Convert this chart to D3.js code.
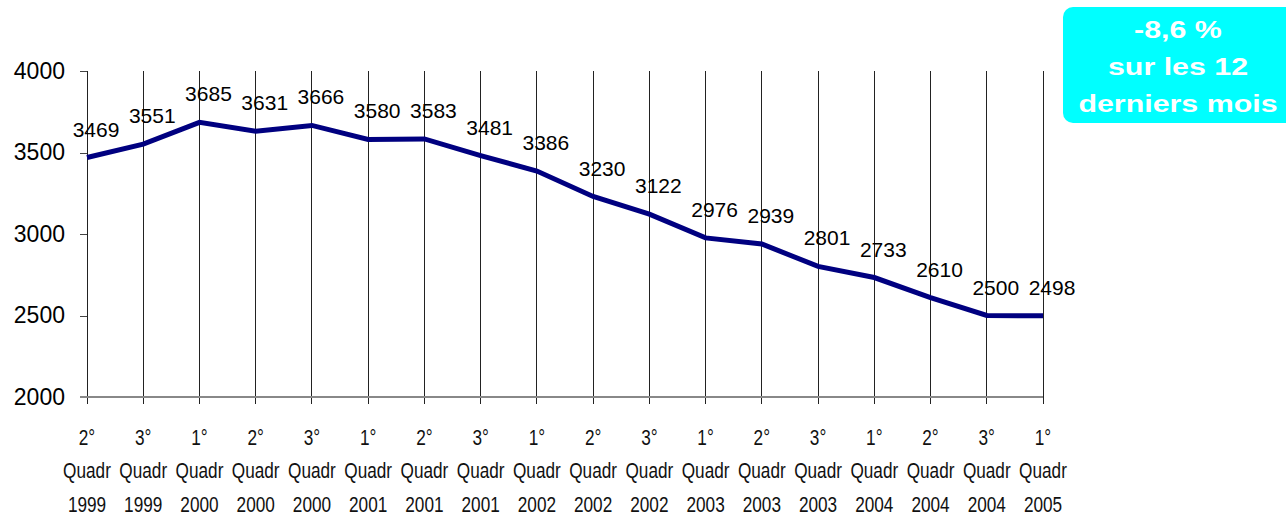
<!DOCTYPE html>
<html>
<head>
<meta charset="utf-8">
<script src="https://cdn.jsdelivr.net/npm/d3@7/dist/d3.min.js"></script>
<style>
  html, body { margin: 0; padding: 0; background: #fff; }
  svg { display: block; }
</style>
</head>
<body>
<svg id="chart" width="1286" height="516"></svg>
<script>
const quarters = ["2°","3°","1°","2°","3°","1°","2°","3°","1°","2°","3°","1°","2°","3°","1°","2°","3°","1°"];
const years = ["1999","1999","2000","2000","2000","2001","2001","2001","2002","2002","2002","2003","2003","2003","2004","2004","2004","2005"];
const values = [3469,3551,3685,3631,3666,3580,3583,3481,3386,3230,3122,2976,2939,2801,2733,2610,2500,2498];
const yTicks = [2000,2500,3000,3500,4000];
const calloutLines = ["-8,6 %","sur les 12","derniers mois"];

const svg = d3.select("#chart");
const idx = values.map((d,i)=>i);
const x = d3.scalePoint().domain(idx).range([87, 1043]);
const y = d3.scaleLinear().domain([2000, 4000]).range([397, 71]);
const baseFont = "'Liberation Sans', Arial, sans-serif";

// vertical gridlines (with tick extension below axis)
svg.append("g").selectAll("line").data(idx).join("line")
  .attr("x1", d=>x(d)).attr("x2", d=>x(d))
  .attr("y1", y(4000)).attr("y2", y(2000)+7)
  .attr("stroke", "#222").attr("stroke-width", 1).attr("shape-rendering","crispEdges");

// y axis
const yAxis = d3.axisLeft(y).tickValues(yTicks).tickSize(7).tickPadding(15).tickFormat(d3.format("d"));
const ya = svg.append("g").attr("transform", "translate(87,0)").call(yAxis);
ya.attr("font-family", baseFont).attr("font-size", 23);
ya.select(".domain").attr("stroke", "#222").attr("shape-rendering","crispEdges");
ya.selectAll(".tick line").attr("stroke", "#444").attr("shape-rendering","crispEdges");
ya.selectAll(".tick text").attr("fill", "#000");

// x axis line
svg.append("line").attr("x1", 80).attr("x2", 1043).attr("y1", y(2000)).attr("y2", y(2000))
  .attr("stroke", "#888").attr("stroke-width", 2);

// category labels (narrow look via horizontal condensation)
const cats = svg.append("g").attr("font-family", baseFont).attr("font-size", 21.5)
  .attr("fill", "#111").attr("text-anchor", "middle");
const rows = [
  {cls:"q", yy:445, f:d=>quarters[d]},
  {cls:"qd", yy:478, f:()=>"Quadr"},
  {cls:"yr", yy:512, f:d=>years[d]}
];
rows.forEach(r => {
  cats.selectAll("text."+r.cls).data(idx).join("text").attr("class", r.cls)
    .attr("transform", d=>`translate(${x(d)},${r.yy}) scale(0.8,1)`)
    .text(r.f);
});

// line
const line = d3.line().x((d,i)=>x(i)).y(d=>y(d));
svg.append("path").datum(values).attr("d", line)
  .attr("fill", "none").attr("stroke", "#000080").attr("stroke-width", 5)
  .attr("stroke-linejoin", "miter");

// data labels
svg.append("g").attr("font-family", baseFont)
  .attr("font-size", 21).attr("fill", "#000").attr("text-anchor", "middle")
  .selectAll("text").data(values).join("text")
  .attr("x", (d,i)=>x(i)+9).attr("y", d=>y(d)-21).text(d=>d);

// callout
svg.append("rect").attr("x", 1063).attr("y", 7).attr("width", 240).attr("height", 116)
  .attr("rx", 10).attr("fill", "#00FFFF");
const cg = svg.append("g").attr("transform", "translate(1178,0) scale(1.24,1)");
cg.selectAll("text").data(calloutLines).join("text")
  .attr("x", 0).attr("y", (d,i)=>38 + i*37)
  .attr("text-anchor", "middle").attr("font-family", baseFont)
  .attr("font-weight", "bold").attr("font-size", 24.5).attr("fill", "#fff").text(d=>d);
</script>
</body>
</html>
